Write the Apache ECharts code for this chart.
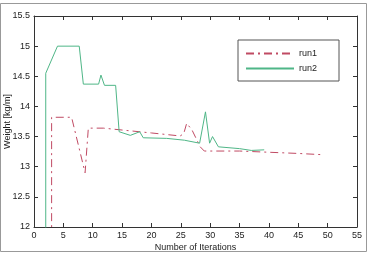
<!DOCTYPE html>
<html>
<head>
<meta charset="utf-8">
<script src="https://cdn.jsdelivr.net/npm/echarts@6/dist/echarts.min.js"></script>
<style>
  html, body { margin: 0; padding: 0; background: #fff; }
  #main { width: 368px; height: 254px; }
</style>
</head>
<body>
<div id="main"></div>
<script>
// run1 / run2 traces as [iteration, weight] pairs
var run1 = [
  [3, 11.5], [3, 13.82], [6.4, 13.82], [8.7, 12.9], [9.25, 13.64], [11.8, 13.64],
  [20, 13.56], [24.9, 13.51], [25.5, 13.55], [26, 13.72], [26.9, 13.61], [28.3, 13.33],
  [29, 13.26], [35, 13.26], [40, 13.24], [45, 13.22], [49, 13.2]
]
var run2 = [
  [2, 11.5], [2, 14.55], [4, 15], [7.7, 15], [8.4, 14.37], [11, 14.37], [11.4, 14.52],
  [12, 14.35], [13.9, 14.35], [14.5, 13.58], [16.4, 13.52], [18, 13.58], [18.6, 13.48],
  [22.6, 13.47], [25.6, 13.44], [28.2, 13.39], [29.2, 13.91], [29.9, 13.39], [30.4, 13.5],
  [31.4, 13.33], [35, 13.3], [37, 13.27], [39.2, 13.28]
]
var xRange = [0, 55, 5]
var yRange = [12, 15.5, 0.5]

var axisColor = '#333'
var font = 'Liberation Sans, Arial, sans-serif'

var myChart = echarts.init(document.getElementById('main'))
myChart.setOption({
  animation: false,
  textStyle: { fontFamily: font },
  graphic: [{
    type: 'rect',
    shape: { x: 0.5, y: 3.5, width: 366, height: 248 },
    style: { fill: 'none', stroke: '#999', lineWidth: 1 },
    silent: true
  }],
  grid: { left: 34, right: 11, top: 16, bottom: 27, containLabel: false, outerBoundsMode: 'none' },
  legend: {
    orient: 'vertical',
    left: 238,
    top: 40,
    itemWidth: 48,
    itemHeight: 10,
    itemGap: 6,
    padding: [9, 22, 8, 7],
    borderColor: '#555',
    borderWidth: 1,
    itemStyle: { opacity: 0 },
    textStyle: { fontSize: 9, color: '#222', fontFamily: font },
    data: ['run1', 'run2']
  },
  xAxis: [
    {
      type: 'value',
      min: xRange[0], max: xRange[1], interval: xRange[2],
      name: 'Number of Iterations',
      nameLocation: 'middle',
      nameGap: 16,
      nameMoveOverlap: false,
      nameTextStyle: { fontSize: 9, color: '#222' },
      axisLine: { onZero: false, lineStyle: { color: axisColor } },
      axisTick: { inside: true, length: 4, lineStyle: { color: axisColor } },
      axisLabel: { fontSize: 9, color: '#222', margin: 4 },
      splitLine: { show: false }
    },
    {
      type: 'value', position: 'top',
      min: xRange[0], max: xRange[1], interval: xRange[2],
      axisLine: { onZero: false, lineStyle: { color: axisColor } },
      axisTick: { inside: true, length: 4, lineStyle: { color: axisColor } },
      axisLabel: { show: false },
      splitLine: { show: false }
    }
  ],
  yAxis: [
    {
      type: 'value',
      min: yRange[0], max: yRange[1], interval: yRange[2],
      name: 'Weight [kg/m]',
      nameLocation: 'middle',
      nameGap: 22,
      nameMoveOverlap: false,
      nameTextStyle: { fontSize: 9, color: '#222' },
      axisLine: { show: true, onZero: false, lineStyle: { color: axisColor } },
      axisTick: { show: true, inside: true, length: 4, lineStyle: { color: axisColor } },
      axisLabel: { fontSize: 9, color: '#222', margin: 4 },
      splitLine: { show: false }
    },
    {
      type: 'value', position: 'right',
      min: yRange[0], max: yRange[1], interval: yRange[2],
      axisLine: { show: true, onZero: false, lineStyle: { color: axisColor } },
      axisTick: { show: true, inside: true, length: 4, lineStyle: { color: axisColor } },
      axisLabel: { show: false },
      splitLine: { show: false }
    }
  ],
  series: [
    {
      name: 'run1',
      type: 'line',
      data: run1,
      symbol: 'none',
      clip: true,
      lineStyle: { color: '#c04a63', width: 1, type: [8, 4, 2, 4] },
      itemStyle: { color: '#c04a63' }
    },
    {
      name: 'run2',
      type: 'line',
      data: run2,
      symbol: 'none',
      clip: true,
      lineStyle: { color: '#4fb687', width: 1 },
      itemStyle: { color: '#4fb687' }
    }
  ]
})
</script>
</body>
</html>
